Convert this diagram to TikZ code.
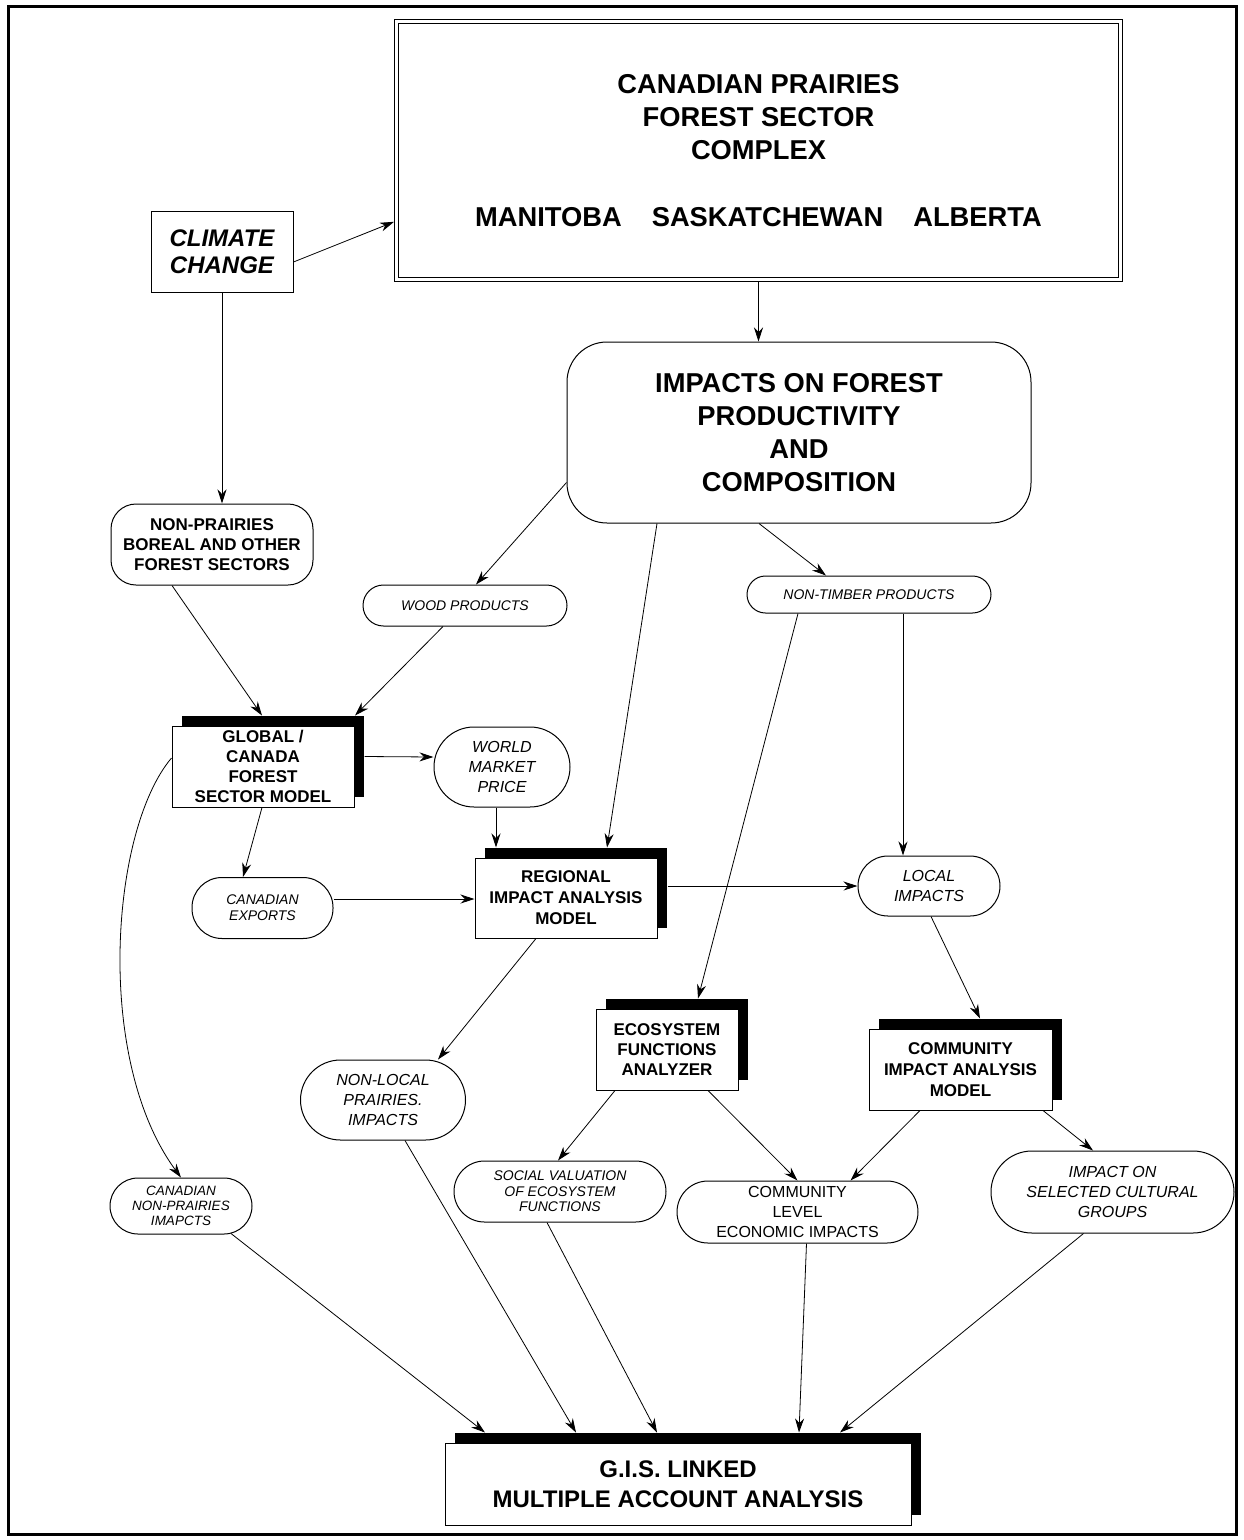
\documentclass[tikz,border=0pt]{standalone}
\usepackage{fontspec}
\setmainfont{Liberation Sans}
\usetikzlibrary{arrows.meta,shadows,calc}
\begin{document}
\begin{tikzpicture}[x=1pt,y=-1pt,
  arr/.style={line width=0.8pt,-{Stealth[length=14pt,width=9pt,inset=4.5pt]}},
  base/.style={draw,line width=1pt,inner sep=0pt,align=center,fill=white},
  box/.style={base,rectangle},
  model/.style={base,drop shadow={shadow xshift=10pt,shadow yshift=10pt,opacity=1,fill=black}},
  pill/.style={base,rounded corners=#1},
  fbig/.style={font=\fontsize{27.3}{33}\selectfont\bfseries},
  fbold/.style={font=\fontsize{17}{20}\selectfont\bfseries},
  fbolds/.style={font=\fontsize{17}{21}\selectfont\bfseries},
  fsmall/.style={font=\fontsize{14}{16}\selectfont\itshape},
  fsocial/.style={font=\fontsize{14}{15.5}\selectfont\itshape},
  ftiny/.style={font=\fontsize{13.5}{15}\selectfont\itshape},
  fmed/.style={font=\fontsize{16}{20}\selectfont\itshape},
  fmedup/.style={font=\fontsize{16}{20}\selectfont}
]
\useasboundingbox (0,0) rectangle (1244,1540);
\draw[line width=3pt] (8.5,6) rectangle (1236,1534);

\node[box,double,double distance=3.5pt,line width=0.9pt,minimum width=724pt,minimum height=258pt,fbig] (top) at (758.5,150.5)
  {CANADIAN PRAIRIES\\FOREST SECTOR\\COMPLEX\\[34pt]MANITOBA\hspace{30pt}SASKATCHEWAN\hspace{30pt}ALBERTA};
\node[box,minimum width=142pt,minimum height=81pt,font=\fontsize{24}{27}\selectfont\bfseries\itshape] (climate) at (222,251.5) {CLIMATE\\CHANGE};
\node[pill=40pt,minimum width=464pt,minimum height=181pt,fbig] (impacts) at (799,432.5) {IMPACTS ON FOREST\\PRODUCTIVITY\\AND\\COMPOSITION};
\node[pill=25pt,minimum width=202pt,minimum height=81pt,fbold] (nonprairies) at (212,544.5) {NON-PRAIRIES\\BOREAL AND OTHER\\FOREST SECTORS};
\node[pill=20.5pt,minimum width=204pt,minimum height=41pt,fsmall] (wood) at (465,605.5) {WOOD PRODUCTS};
\node[pill=18.5pt,minimum width=244pt,minimum height=37pt,fsmall] (nontimber) at (869,594.5) {NON-TIMBER PRODUCTS};
\node[model,minimum width=182pt,minimum height=81pt,fbold] (global) at (263,766.5) {GLOBAL /\\CANADA\\FOREST\\SECTOR MODEL};
\node[pill=40pt,minimum width=136pt,minimum height=80pt,fmed] (world) at (502,767) {WORLD\\MARKET\\PRICE};
\node[model,minimum width=182pt,minimum height=80pt,fbolds] (regional) at (566,898) {REGIONAL\\IMPACT ANALYSIS\\MODEL};
\node[pill=30pt,minimum width=141pt,minimum height=61pt,fsmall] (exports) at (262.5,908) {CANADIAN\\EXPORTS};
\node[pill=30pt,minimum width=142pt,minimum height=60pt,fmed] (local) at (929,886) {LOCAL\\IMPACTS};
\node[model,minimum width=142pt,minimum height=81pt,fbold] (ecosystem) at (667,1049.5) {ECOSYSTEM\\FUNCTIONS\\ANALYZER};
\node[model,minimum width=183pt,minimum height=81pt,fbolds] (community) at (960.5,1069.5) {COMMUNITY\\IMPACT ANALYSIS\\MODEL};
\node[pill=40pt,minimum width=165pt,minimum height=80pt,fmed] (nonlocal) at (383,1100) {NON-LOCAL\\PRAIRIES.\\IMPACTS};
\node[pill=30.5pt,minimum width=212pt,minimum height=61pt,fsocial] (social) at (560,1191.5) {SOCIAL VALUATION\\OF ECOSYSTEM\\FUNCTIONS};
\node[pill=31pt,minimum width=241pt,minimum height=62pt,fmedup] (commlevel) at (797.5,1212) {COMMUNITY\\LEVEL\\ECONOMIC IMPACTS};
\node[pill=41pt,minimum width=243pt,minimum height=82pt,fmed] (cultural) at (1112.5,1192) {IMPACT ON\\SELECTED CULTURAL\\GROUPS};
\node[pill=28pt,minimum width=142pt,minimum height=56pt,ftiny] (cnp) at (181,1206) {CANADIAN\\NON-PRAIRIES\\IMAPCTS};
\node[model,minimum width=466pt,minimum height=82pt,font=\fontsize{24}{30}\selectfont\bfseries] (gis) at (678,1484) {G.I.S. LINKED\\MULTIPLE ACCOUNT ANALYSIS};

\draw[arr,shorten >=2.2pt] ([yshift=-10.5pt]climate.east) -- ([yshift=-70.5pt]top.west);
\draw[arr,shorten <=2.2pt] (top.south) -- (top.south |- impacts.north);
\draw[arr] (climate.south) -- (climate.south |- nonprairies.north);
\draw[arr] ([yshift=-50pt]impacts.west) -- ([xshift=11pt]wood.north);
\draw[arr] ([xshift=-142pt]impacts.south) -- ([xshift=41pt,yshift=10pt]regional.north);
\draw[arr] ([xshift=-40pt]impacts.south) -- ([xshift=-43pt]nontimber.north);
\draw[arr] ([xshift=-40pt]nonprairies.south) -- ([xshift=-1pt,yshift=10pt]global.north);
\draw[arr] ([xshift=-22pt]wood.south) -- ([xshift=92pt,yshift=10pt]global.north);
\draw[arr] ([xshift=10pt,yshift=10pt]global.east) -- ([yshift=10pt]world.west);
\draw[arr] ([xshift=-6pt]world.south) -- ([xshift=-70pt,yshift=10pt]regional.north);
\draw[arr] ([xshift=-1pt]global.south) -- ([xshift=-19.5pt]exports.north);
\draw[arr] ([yshift=9pt]exports.east) -- ([yshift=-1pt]regional.west);
\draw[arr] ([xshift=10pt,yshift=12pt]regional.east) -- (local.west);
\draw[arr] ([xshift=34pt]nontimber.south) -- ([xshift=-26pt]local.north);
\draw[arr] ([xshift=-71pt]nontimber.south) -- ([xshift=31pt,yshift=10pt]ecosystem.north);
\draw[arr] ([xshift=2pt]local.south) -- ([xshift=19.5pt,yshift=10pt]community.north);
\draw[arr] ([xshift=-30pt]regional.south) -- ([xshift=55pt]nonlocal.north);
\draw[arr] ([yshift=8.5pt]global.west) .. controls +(-61,72) and +(-87,-118) .. (cnp.north);
\draw[arr] ([xshift=-52pt]ecosystem.south) -- ([xshift=-2pt]social.north);
\draw[arr] ([xshift=41pt]ecosystem.south) -- (commlevel.north);
\draw[arr] ([xshift=-40.5pt]community.south) -- ([xshift=53pt]commlevel.north);
\draw[arr] ([xshift=82.5pt]community.south) -- ([xshift=-19.5pt]cultural.north);
\draw[arr] ([xshift=50pt,yshift=1pt]cnp.south) -- ([xshift=-193pt,yshift=10pt]gis.north);
\draw[arr] ([xshift=22pt]nonlocal.south) -- ([xshift=-102pt,yshift=10pt]gis.north);
\draw[arr] ([xshift=-13pt]social.south) -- ([xshift=-21pt,yshift=10pt]gis.north);
\draw[arr] ([xshift=9pt]commlevel.south) -- ([xshift=121pt,yshift=10pt]gis.north);
\draw[arr] ([xshift=-29pt]cultural.south) -- ([xshift=162pt,yshift=10pt]gis.north);
\end{tikzpicture}
\end{document}
